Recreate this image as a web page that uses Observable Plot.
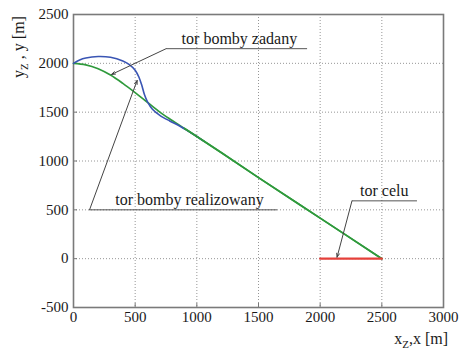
<!DOCTYPE html>
<html>
<head>
<meta charset="utf-8">
<script src="https://cdn.jsdelivr.net/npm/d3@7"></script>
<script src="https://cdn.jsdelivr.net/npm/@observablehq/plot@0.6"></script>
<style>
  html, body { margin: 0; padding: 0; background: white; }
  #chart svg { display: block; }
  #chart svg text { font-family: "Liberation Serif", "DejaVu Serif", serif !important; }
</style>
</head>
<body>
<div id="chart"></div>
<script>
// Axis ticks
const xTicks = [0, 500, 1000, 1500, 2000, 2500, 3000];
const yTicks = [-500, 0, 500, 1000, 1500, 2000, 2500];

// Commanded bomb trajectory (green)
const zadanyX = [0, 100, 200, 300, 400, 500, 600, 700, 800, 900, 1000, 1200, 1500, 2000, 2500];
const zadanyY = [2000, 1985, 1945, 1880, 1795, 1700, 1600, 1500, 1415, 1333, 1250, 1085, 830, 415, 0];

// Realized bomb trajectory (blue)
const realX = [0, 50, 100, 200, 300, 400, 450, 500, 530, 555, 575, 600, 640, 700, 780, 860, 950, 1020, 1060];
const realY = [2000, 2035, 2055, 2070, 2062, 2025, 1990, 1930, 1860, 1770, 1680, 1605, 1530, 1468, 1410, 1358, 1290, 1235, 1200];

// Target track (red)
const celuX = [2000, 2500];
const celuY = [0, 0];

// Callouts: label text, text anchor point, underline span, leader tip
const calloutText = ["tor bomby zadany", "tor bomby realizowany", "tor celu"];
const calloutTextX = [1345, 940, 2520];
const calloutTextY = [2235, 590, 680];
const calloutLineX1 = [751, 130, 2258];
const calloutLineX2 = [1894, 1651, 2785];
const calloutLineY = [2150, 500, 592];
const calloutTipX = [308, 516, 2137];
const calloutTipY = [1886, 1825, 15];

const toPts = (xs, ys) => xs.map((x, i) => ({x, y: ys[i]}));
const zadany = toPts(zadanyX, zadanyY);
const real = toPts(realX, realY);
const celu = toPts(celuX, celuY);
const callouts = calloutText.map((t, i) => ({
  t, tx: calloutTextX[i], ty: calloutTextY[i],
  x1: calloutLineX1[i], x2: calloutLineX2[i], y: calloutLineY[i],
  ax: calloutTipX[i], ay: calloutTipY[i]
}));

const serif = "Liberation Serif, DejaVu Serif, serif";
const gridStyle = {stroke: "#8a8a8a", strokeOpacity: 1, strokeWidth: 0.9, strokeDasharray: "1,2"};

const chart = Plot.plot({
  width: 466,
  height: 352,
  marginLeft: 73,
  marginRight: 23,
  marginTop: 14,
  marginBottom: 45,
  style: {fontFamily: serif, fontSize: "15px", color: "#1a1a1a", background: "white"},
  x: {domain: [0, 3000], ticks: xTicks},
  y: {domain: [-500, 2500], ticks: yTicks},
  marks: [
    Plot.gridX(xTicks, gridStyle),
    Plot.gridY(yTicks, gridStyle),
    Plot.axisX(xTicks, {tickSize: 0, tickPadding: 4, label: null, fontSize: 15, tickFormat: d => String(d)}),
    Plot.axisY(yTicks, {tickSize: 0, tickPadding: 5, label: null, fontSize: 15, tickFormat: d => String(d)}),
    Plot.axisX(xTicks, {tickSize: -4, tickFormat: () => "", label: null, stroke: "#777"}),
    Plot.axisY(yTicks, {tickSize: -4, tickFormat: () => "", label: null, stroke: "#777"}),
    Plot.frame({stroke: "#7a7a7a", strokeWidth: 1.6}),
    // trajectories
    Plot.line(zadany, {x: "x", y: "y", stroke: "#2f9a3c", strokeWidth: 1.7, curve: "catmull-rom"}),
    Plot.line(real, {x: "x", y: "y", stroke: "#3a55b4", strokeWidth: 1.6, curve: "catmull-rom"}),
    Plot.line(zadany.slice(-6), {x: "x", y: "y", stroke: "#2f9a3c", strokeWidth: 1.7, curve: "catmull-rom"}),
    Plot.line(celu, {x: "x", y: "y", stroke: "#e5403a", strokeWidth: 2.2}),
    // callouts
    Plot.link(callouts, {x1: "x1", x2: "x2", y1: "y", y2: "y", stroke: "#555", strokeWidth: 1}),
    Plot.arrow(callouts, {x1: "x1", y1: "y", x2: "ax", y2: "ay", stroke: "#444", strokeWidth: 1, headLength: 6, headAngle: 40}),
    Plot.text(callouts, {x: "tx", y: "ty", text: "t", fontSize: 16, fill: "#1a1a1a", textAnchor: "middle", lineAnchor: "bottom", dy: 4})
  ]
});

const svg = d3.select(chart);

// y axis title with subscript
const yl = svg.append("text")
  .attr("transform", "translate(24,47) rotate(-90)")
  .attr("text-anchor", "middle")
  .attr("font-size", 16)
  .attr("fill", "#1a1a1a");
yl.append("tspan").text("y");
yl.append("tspan").attr("font-size", 11).attr("dy", 4).text("Z");
yl.append("tspan").attr("dy", -4).text(" , y [m]");

// x axis title with subscript
const xl = svg.append("text")
  .attr("x", 448)
  .attr("y", 344)
  .attr("text-anchor", "end")
  .attr("font-size", 16)
  .attr("fill", "#1a1a1a");
xl.append("tspan").text("x");
xl.append("tspan").attr("font-size", 11).attr("dy", 4).text("Z");
xl.append("tspan").attr("dy", -4).text(",x [m]");

document.getElementById("chart").appendChild(chart);
</script>
</body>
</html>
